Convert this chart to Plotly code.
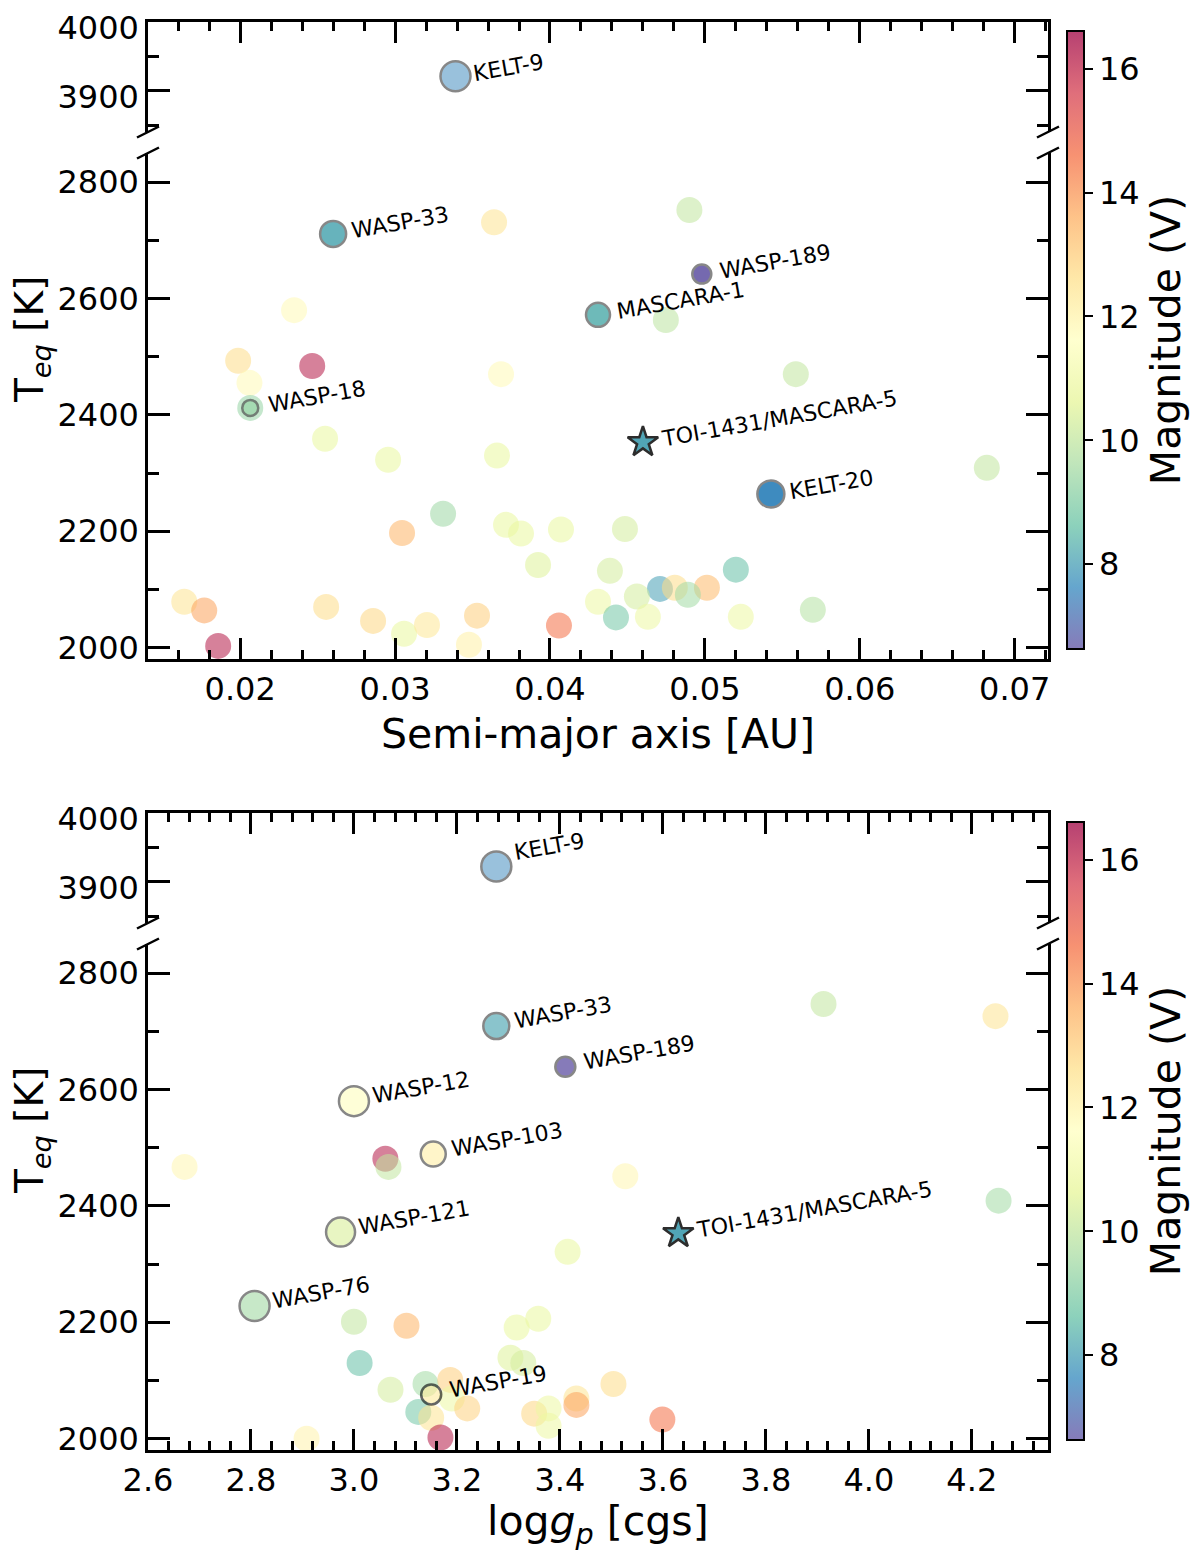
import plotly.graph_objects as go

# ---- top panel: semi-major axis vs Teq (background planets) ----
a_bg = [0.03639, 0.0490, 0.02348, 0.01987, 0.02465, 0.0206, 0.03684, 0.04748, 0.05587, 0.02065,
        0.02548, 0.02955, 0.03658, 0.0682, 0.0331, 0.03045, 0.03716, 0.03813, 0.04071, 0.04484,
        0.03923, 0.04387, 0.0520, 0.0471, 0.04806, 0.05013, 0.0489, 0.0431, 0.04561, 0.04426,
        0.04632, 0.05232, 0.05697, 0.04058, 0.01639, 0.01768, 0.01858, 0.02555, 0.02858, 0.03058,
        0.03206, 0.03529, 0.03477]
teq_a_bg = [2731, 2752, 2580, 2493, 2484, 2455, 2470, 2563, 2470, 2412,
            2359, 2323, 2330, 2309, 2230, 2197, 2211, 2196, 2203, 2204,
            2142, 2132, 2134, 2101, 2103, 2103, 2091, 2079, 2088, 2052,
            2053, 2053, 2065, 2038, 2079, 2064, 2003, 2070, 2046, 2024,
            2039, 2055, 2005]
vmag_a_bg = [12.5, 10.0, 11.8, 12.7, 16.2, 11.8, 11.8, 9.9, 10.0, 9.3,
             10.8, 10.8, 10.8, 10.0, 9.4, 13.5, 10.8, 10.8, 10.8, 10.3,
             10.5, 10.3, 8.6, 8.0, 12.7, 13.4, 9.5, 10.9, 10.3, 8.8,
             10.9, 10.9, 9.8, 14.6, 12.5, 13.8, 16.2, 12.7, 12.8, 10.8,
             12.4, 13.0, 12.1]

# ---- top panel: named planets ----
a_names = ["KELT-9", "WASP-33", "WASP-189", "MASCARA-1", "WASP-18", "KELT-20"]
a_lab = [0.0339, 0.0260, 0.0498, 0.0431, 0.02065, 0.05426]
teq_a_lab = [3921, 2711, 2642, 2572, 2412, 2264]
vmag_a_lab = [7.56, 8.14, 6.64, 8.3, 9.3, 7.58]

# ---- bottom panel: log g vs Teq (background planets) ----
logg_bg = [3.061, 3.067, 2.671, 3.527, 3.912, 4.246, 4.252, 3.415, 3.000, 3.102,
           3.316, 3.358, 3.011, 3.304, 3.329, 3.071, 3.139, 3.187, 3.190, 3.125,
           3.150, 3.220, 3.350, 3.378, 3.378, 3.432, 3.432, 3.504, 3.599, 3.168,
           2.908]
teq_g_bg = [2481, 2467, 2467, 2451, 2747, 2726, 2409, 2321, 2201, 2194,
            2191, 2206, 2130, 2139, 2130, 2084, 2094, 2101, 2069, 2046,
            2036, 2052, 2043, 2052, 2022, 2069, 2058, 2094, 2033, 2002,
            2000]
vmag_g_bg = [16.2, 10.0, 11.9, 11.9, 10.0, 12.5, 9.5, 10.8, 10.0, 13.5,
             10.8, 10.8, 8.6, 10.5, 10.3, 10.3, 9.5, 13.0, 10.9, 8.8,
             12.5, 12.9, 12.8, 10.9, 10.9, 12.5, 13.8, 12.7, 14.6, 16.2,
             12.0]

# ---- bottom panel: named planets ----
g_names = ["KELT-9", "WASP-33", "WASP-189", "WASP-12", "WASP-103", "WASP-121", "WASP-76", "WASP-19"]
logg_lab = [3.2765, 3.2765, 3.4105, 3.000, 3.154, 2.974, 2.807, 3.150]
teq_g_lab = [3922, 2709, 2639, 2580, 2489, 2355, 2228, 2076]
vmag_g_lab = [7.56, 8.14, 6.64, 11.57, 12.1, 10.4, 9.5, 12.3]

# ---- TOI-1431 / MASCARA-5 ----
toi_name = "TOI-1431/MASCARA-5"
toi_a = 0.0460
toi_logg = 3.630
toi_teq = 2353
toi_vmag = 8.05

# colour range of the magnitude bar
vmin, vmax = 6.63, 16.61
BREAK = 3000  # split between lower and upper y-axis pieces

# marker style of the named planets (size px, opacity, label y shift)
style_top = {
    "KELT-9": (30, 0.5, -12), "WASP-33": (26, 0.85, -12), "WASP-189": (19, 0.85, -12),
    "MASCARA-1": (24, 0.85, -12), "WASP-18": (16, 0.65, -12), "KELT-20": (27, 0.95, -12),
}
style_bot = {
    "KELT-9": (30, 0.5, -1), "WASP-33": (26, 0.65, -10), "WASP-189": (20, 0.75, -10),
    "WASP-12": (30, 0.6, -10), "WASP-103": (25, 0.6, -10), "WASP-121": (29, 0.6, -10),
    "WASP-76": (30, 0.6, -10), "WASP-19": (20, 0.6, -10),
}

spectral = ["rgb(94,79,162)", "rgb(50,136,189)", "rgb(102,194,165)", "rgb(171,221,164)",
            "rgb(230,245,152)", "rgb(255,255,191)", "rgb(254,224,139)", "rgb(253,174,97)",
            "rgb(244,109,67)", "rgb(213,62,79)", "rgb(158,1,66)"]
cs_solid = [[i / 10, c] for i, c in enumerate(spectral)]
cs_alpha = [[i / 10, c.replace("rgb", "rgba").replace(")", ",0.75)")] for i, c in enumerate(spectral)]

FONT = "DejaVu Sans"
H = 1556.0
W = 1200.0
OFFX = 8  # page margin of the browser around the figure
OFFY = 2  # smaller vertical correction so the top "4000" label stays on the page


def px(v):
    return (v - OFFX) / W


def py(v):
    return 1 - (v - OFFY) / H


panel_shift = 791
XDOM = [px(148), px(1048)]
dom_top_up = [py(126), py(15.5)]
dom_top_lo = [py(653.3), py(147)]
dom_bot_up = [py(126 + panel_shift), py(15.5 + panel_shift)]
dom_bot_lo = [py(653.3 + panel_shift), py(147 + panel_shift)]

fig = go.Figure()


def line_col(alpha, target=136):
    c = int(max(0, 255 - (255 - target) / alpha))
    return "rgb({0},{0},{0})".format(c)


def add_panel(xa, xb, ya, yb, x_bg, t_bg, v_bg, names, x_lab, t_lab, v_lab, x_toi, style, cax):
    # background planets
    for xr, yr, upper in ((xa, ya, False), (xb, yb, True)):
        pts = [(x, t, v) for x, t, v in zip(x_bg, t_bg, v_bg) if (t > BREAK) == upper]
        if pts:
            fig.add_trace(go.Scatter(
                x=[p[0] for p in pts], y=[p[1] for p in pts], mode="markers",
                xaxis=xr, yaxis=yr, showlegend=False, hoverinfo="skip",
                marker=dict(color=[p[2] for p in pts], coloraxis=cax, size=26, opacity=0.73,
                            line=dict(width=0))))
    # named planets
    for xr, yr, upper in ((xa, ya, False), (xb, yb, True)):
        sel = [i for i, t in enumerate(t_lab) if (t > BREAK) == upper]
        if not sel:
            continue
        fig.add_trace(go.Scatter(
            x=[x_lab[i] for i in sel], y=[t_lab[i] for i in sel], mode="markers",
            xaxis=xr, yaxis=yr, showlegend=False,
            marker=dict(color=[v_lab[i] for i in sel], coloraxis="coloraxis3",
                        size=[style[names[i]][0] for i in sel],
                        opacity=[style[names[i]][1] for i in sel],
                        line=dict(width=2.5,
                                  color=["black" if names[i] == "WASP-19" else line_col(style[names[i]][1])
                                         for i in sel]))))
        for i in sel:
            fig.add_annotation(x=x_lab[i], y=t_lab[i], xref=xr, yref=yr, text=names[i],
                               showarrow=False, textangle=-10, xanchor="left", yanchor="bottom",
                               xshift=14, yshift=style[names[i]][2],
                               font=dict(family=FONT, size=22, color="black"))
    # TOI-1431 star
    fig.add_trace(go.Scatter(
        x=[x_toi], y=[toi_teq], mode="markers", xaxis=xa, yaxis=ya, showlegend=False,
        marker=dict(symbol="star", color=[toi_vmag], coloraxis="coloraxis3", size=23, opacity=0.95,
                    line=dict(width=2.5, color="#222222"))))
    fig.add_annotation(x=x_toi, y=toi_teq, xref=xa, yref=ya, text=toi_name, showarrow=False,
                       textangle=-10, xanchor="left", yanchor="bottom", xshift=14, yshift=-12,
                       font=dict(family=FONT, size=22, color="black"))


add_panel("x", "x2", "y", "y2", a_bg, teq_a_bg, vmag_a_bg, a_names, a_lab, teq_a_lab, vmag_a_lab,
          toi_a, style_top, "coloraxis")
add_panel("x3", "x4", "y3", "y4", logg_bg, teq_g_bg, vmag_g_bg, g_names, logg_lab, teq_g_lab,
          vmag_g_lab, toi_logg, style_bot, "coloraxis2")

tickfont = dict(family=FONT, size=32, color="black")


def xax(anchor, rng, dtick, mdtick, side, labels, fmt, match=None):
    d = dict(domain=XDOM, range=rng, anchor=anchor, side=side, showline=True, linecolor="black",
             linewidth=2.5, ticks="inside", ticklen=22, tickwidth=2.5, tickcolor="black",
             tick0=0, dtick=dtick, tickformat=fmt, showticklabels=labels, tickfont=tickfont,
             showgrid=False, zeroline=False, ticklabelstandoff=0, automargin=False,
             minor=dict(ticks="inside", ticklen=10, tickwidth=2.5, tickcolor="black", dtick=mdtick,
                        tick0=0, showgrid=False))
    if match:
        d["matches"] = match
    return d


def yax(anchor, dom, rng, dtick, mdtick, lshift=0):
    return dict(domain=dom, range=rng, anchor=anchor, showline=True, linecolor="black", linewidth=2.5,
                mirror="ticks", ticks="inside", ticklen=22, tickwidth=2.5, tickcolor="black",
                tick0=0, dtick=dtick, tickfont=tickfont, showgrid=False, zeroline=False,
                ticklabelstandoff=0, ticklabelshift=lshift, ticklabeloverflow="allow",
                automargin=False,
                minor=dict(ticks="inside", ticklen=11, tickwidth=2.5, tickcolor="black", dtick=mdtick,
                           tick0=0, showgrid=False))


fig.update_layout(
    xaxis=xax("y", [0.01405, 0.07215], 0.01, 0.002, "bottom", True, ".2f"),
    xaxis2=xax("y2", [0.01405, 0.07215], 0.01, 0.002, "top", False, ".2f", "x"),
    xaxis3=xax("y3", [2.6, 4.348], 0.2, 0.04, "bottom", True, ".1f"),
    xaxis4=xax("y4", [2.6, 4.348], 0.2, 0.04, "top", False, ".1f", "x3"),
    yaxis=yax("x", dom_top_lo, [1980, 2850], 200, 100),
    yaxis2=yax("x2", dom_top_up, [3840, 4000.5], 100, 50, 6),
    yaxis3=yax("x3", dom_bot_lo, [1980, 2850], 200, 100),
    yaxis4=yax("x4", dom_bot_up, [3840, 4000.5], 100, 50, 6),
)

cbar_common = dict(thickness=17, x=px(1067), xanchor="left", len=618 / H, lenmode="fraction",
                   yanchor="middle", outlinecolor="black", outlinewidth=2, ticks="outside",
                   ticklen=8, tickwidth=2, tickcolor="black", tickvals=[8, 10, 12, 14, 16],
                   tickfont=tickfont, xpad=0, ypad=0,
                   title=dict(text="Magnitude (V)", side="right", font=dict(family=FONT, size=41)))
fig.update_layout(
    coloraxis=dict(colorscale=cs_alpha, cmin=vmin, cmax=vmax,
                   colorbar=dict(y=py(334), **cbar_common)),
    coloraxis2=dict(colorscale=cs_alpha, cmin=vmin, cmax=vmax,
                    colorbar=dict(y=py(334 + panel_shift), **cbar_common)),
    coloraxis3=dict(colorscale=cs_solid, cmin=vmin, cmax=vmax, showscale=False),
)

# axis titles
titles = [
    ("Semi-major axis [AU]", px(598), py(728), 0, 41),
    ("log<i>g</i><sub><i>p</i></sub> [cgs]", px(598), py(1518), 0, 41),
    ("T<sub><i>eq</i></sub> [K]", px(32), py(334), -90, 39),
    ("T<sub><i>eq</i></sub> [K]", px(32), py(334 + panel_shift), -90, 39),
]
for txt, tx, ty, ang, fs in titles:
    fig.add_annotation(x=tx, y=ty, xref="paper", yref="paper", text=txt, showarrow=False,
                       textangle=ang, xanchor="center", yanchor="middle",
                       font=dict(family=FONT, size=fs, color="black"))

# diagonal break marks on both spines
for shift in (0, panel_shift):
    for yb in (126 + shift, 147 + shift):
        for xb in (148, 1048):
            fig.add_shape(type="line", xref="paper", yref="paper",
                          x0=px(xb - 11), x1=px(xb + 11),
                          y0=py(yb + 5.5), y1=py(yb - 5.5),
                          line=dict(color="black", width=2.5))

fig.update_layout(width=1200, height=1556, margin=dict(l=0, r=0, t=0, b=0, autoexpand=False),
                  paper_bgcolor="white", plot_bgcolor="white",
                  font=dict(family=FONT, color="black"))

fig.write_html("out.html")
